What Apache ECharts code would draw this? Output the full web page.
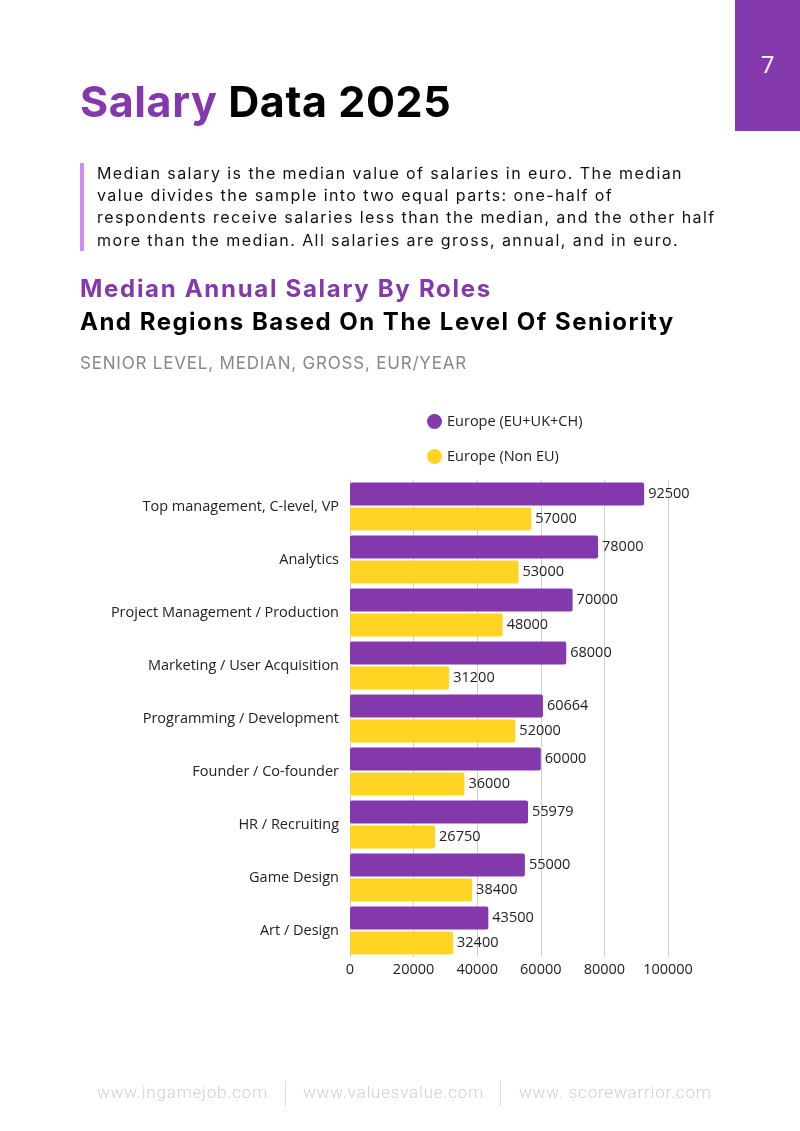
<!DOCTYPE html>
<html><head><meta charset="utf-8">
<script src="https://cdn.jsdelivr.net/npm/echarts@6/dist/echarts.min.js"></script>
<style>
html,body{margin:0;padding:0;background:#fff;}
#page{position:relative;width:800px;height:1131px;overflow:hidden;font-family:'Inter','Noto Sans',sans-serif;}
#chart{position:absolute;left:0;top:0;width:800px;height:1131px;}
.abs{position:absolute;white-space:nowrap;}
#pnum{position:absolute;left:735px;top:0;width:65px;height:131px;background:#8338AC;color:#fff;font-family:'Open Sans',sans-serif;font-size:24px;text-align:center;line-height:128px;}
#title{left:80px;top:75px;font-size:43px;font-weight:700;color:#000;letter-spacing:0.6px;}
#title span{color:#8338AC;}
#bar{position:absolute;left:80px;top:163px;width:4px;height:88px;background:#D08CF2;}
#para{left:97px;top:162px;font-size:16px;line-height:22.2px;color:#111;letter-spacing:1.42px;font-family:'Inter',sans-serif;}
#sub1{left:80px;top:274px;font-size:24px;font-weight:700;color:#8338AC;letter-spacing:1.7px;}
#sub2{left:80px;top:307px;font-size:24px;font-weight:700;color:#000;letter-spacing:1.5px;}
#sub3{left:80px;top:353px;font-size:17px;color:#888;letter-spacing:0.8px;}
.foot{top:1082px;font-family:'Roboto',sans-serif;font-weight:300;font-size:17px;color:#cfcfcf;letter-spacing:0.8px;}
.sep{position:absolute;top:1081px;width:1px;height:25px;background:#dcdcdc;}
</style></head>
<body>
<div id="page">
<div id="chart"></div>
<div id="pnum">7</div>
<div id="title" class="abs"><span>Salary</span> Data 2025</div>
<div id="bar"></div>
<div id="para" class="abs">Median salary is the median value of salaries in euro. The median<br>value divides the sample into two equal parts: one-half of<br>respondents receive salaries less than the median, and the other half<br>more than the median. All salaries are gross, annual, and in euro.</div>
<div id="sub1" class="abs">Median Annual Salary By Roles</div>
<div id="sub2" class="abs">And Regions Based On The Level Of Seniority</div>
<div id="sub3" class="abs">SENIOR LEVEL, MEDIAN, GROSS, EUR/YEAR</div>
<div class="abs foot" style="left:97px">www.ingamejob.com</div>
<div class="abs foot" style="left:303px">www.valuesvalue.com</div>
<div class="abs foot" style="left:519px">www. scorewarrior.com</div>
<div class="sep" style="left:285px"></div>
<div class="sep" style="left:500px"></div>
</div>
<script>
const categories = [
  'Top management, C-level, VP',
  'Analytics',
  'Project Management / Production',
  'Marketing / User Acquisition',
  'Programming / Development',
  'Founder / Co-founder',
  'HR / Recruiting',
  'Game Design',
  'Art / Design'
];
const seriesNames = ['Europe (EU+UK+CH)', 'Europe (Non EU)'];
const europeEU = [92500, 78000, 70000, 68000, 60664, 60000, 55979, 55000, 43500];
const europeNonEU = [57000, 53000, 48000, 31200, 52000, 36000, 26750, 38400, 32400];
const xTicks = [0, 20000, 40000, 60000, 80000, 100000];

const chart = echarts.init(document.getElementById('chart'), null, {renderer:'canvas'});
const font = "'Open Sans', 'Noto Sans', sans-serif";
const fs = 14.5;
const lbl = {show:true, position:'right', distance:4, color:'#222', fontSize:fs, fontFamily:font};
chart.setOption({
  animation:false,
  legend:{
    orient:'vertical', left:422, top:409, itemGap:20, icon:'circle', itemWidth:15, itemHeight:15,
    textStyle:{color:'#222', fontSize:fs, fontFamily:font},
    data:seriesNames
  },
  grid:{left:350, right:132, top:480, bottom:174, containLabel:false},
  xAxis:{
    type:'value', min:xTicks[0], max:xTicks[xTicks.length-1], interval:20000,
    axisLine:{show:false}, axisTick:{show:false},
    splitLine:{show:true, lineStyle:{color:'#d0d0d0', width:1}},
    axisLabel:{color:'#222', fontSize:fs, fontFamily:font, margin:5, formatter:v=>String(v)}
  },
  yAxis:{
    type:'category', data:categories, inverse:true,
    axisLine:{show:true, lineStyle:{color:'#c8c8c8'}}, axisTick:{show:false},
    axisLabel:{color:'#222', fontSize:fs, fontFamily:font, margin:11}
  },
  series:[
    {name:seriesNames[0], type:'bar', data:europeEU, barWidth:23, barGap:'9%', barCategoryGap:'13%',
     itemStyle:{color:'#8338AC', borderRadius:2}, label:lbl},
    {name:seriesNames[1], type:'bar', data:europeNonEU, barWidth:23,
     itemStyle:{color:'#FFD422', borderRadius:2}, label:lbl}
  ]
});
</script>
</body></html>
